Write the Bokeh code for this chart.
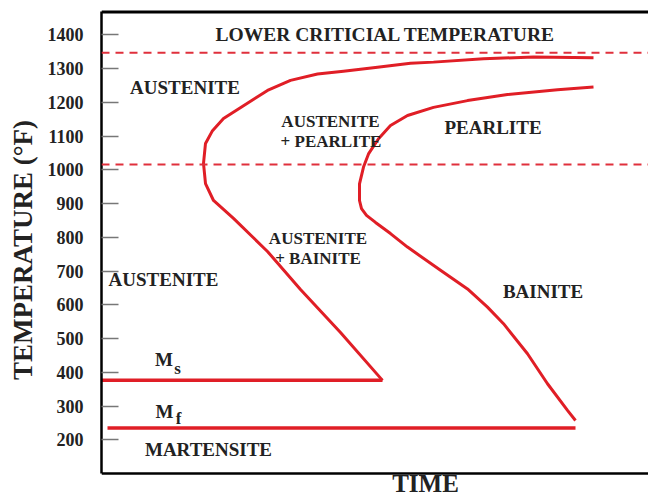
from bokeh.plotting import figure
from bokeh.models import Span, FixedTicker, Range1d, ColumnDataSource
from bokeh.core.properties import value
from bokeh.embed import file_html
from bokeh.resources import INLINE

# ---- data (time in arbitrary units, temperature in °F) ----
start_time = [492, 432, 382, 332, 309, 276, 242, 216, 189, 166, 142, 122, 111, 104, 102,
              104, 112, 132, 166, 199, 239, 281]
start_temp = [1332, 1334, 1329, 1319, 1316, 1304, 1292, 1284, 1265, 1235, 1190, 1152, 1116,
              1078, 1019, 959, 909, 856, 758, 645, 518, 376]
finish_time = [492, 456, 406, 366, 332, 306, 289, 277, 267, 262, 258, 258, 260, 265, 274,
               289, 306, 339, 366, 386, 402, 426, 446, 466, 474]
finish_temp = [1245, 1237, 1223, 1205, 1185, 1161, 1131, 1092, 1047, 1008, 958, 909, 885,
               865, 844, 811, 771, 702, 647, 593, 544, 455, 366, 287, 257]
ms_time = [0, 281]
ms_temp = [376, 376]
mf_time = [6, 474]
mf_temp = [235, 235]
dashed_temps = [1347, 1016]
y_ticks = [200, 300, 400, 500, 600, 700, 800, 900, 1000, 1100, 1200, 1300, 1400]
box_temps = [100, 1467.6]          # bottom and top border of the chart box

big_text = ["LOWER CRITICIAL TEMPERATURE", "AUSTENITE", "AUSTENITE", "PEARLITE",
            "BAINITE", "MARTENSITE", "M", "M"]
big_time = [284, 83.5, 62, 391.5, 441.5, 107, 62.5, 63]
big_temp = [1402, 1244, 675, 1125, 639, 171, 438, 284]
small_text = ["AUSTENITE", "+ PEARLITE", "AUSTENITE", "+ BAINITE"]
small_time = [229, 229.5, 216.5, 216.5]
small_temp = [1143, 1084, 796, 737]
sub_text = ["s", "f"]
sub_time = [76, 77]
sub_temp = [411, 262]
x_title = ["TIME"]
x_title_time = [324]
x_title_temp = [71]

FONT = "Liberation Serif"
RED = "#e01e26"
TEXT = "#222222"

p = figure(width=648, height=499, output_backend="svg", toolbar_location=None,
           x_range=Range1d(0, 547), y_range=Range1d(23, 1501.6),
           min_border_left=101, min_border_right=0, min_border_top=0, min_border_bottom=0)
p.outline_line_color = None
p.xgrid.visible = False
p.ygrid.visible = False
p.xaxis.visible = False

ya = p.yaxis[0]
ya.ticker = FixedTicker(ticks=y_ticks)
ya.bounds = (box_temps[0], box_temps[1])
ya.major_tick_in = 17
ya.major_tick_out = 0
ya.minor_tick_line_color = None
ya.major_tick_line_color = "#777777"
ya.major_tick_line_width = 1.5
ya.major_label_standoff = 18
ya.major_label_text_font = FONT
ya.major_label_text_font_style = "bold"
ya.major_label_text_font_size = "18px"
ya.major_label_text_color = TEXT
ya.axis_line_color = "black"
ya.axis_line_width = 2.5
ya.axis_label = "TEMPERATURE (°F)"
ya.axis_label_text_font = FONT
ya.axis_label_text_font_style = "bold"
ya.axis_label_text_font_size = "27px"
ya.axis_label_text_color = TEXT
ya.axis_label_standoff = 7

p.add_layout(Span(location=box_temps[0], dimension="width", line_color="black", line_width=2.5))
p.add_layout(Span(location=box_temps[1], dimension="width", line_color="black", line_width=3))

for t in dashed_temps:
    p.add_layout(Span(location=t, dimension="width", line_color="#e0303c",
                      line_width=2, line_dash="8 6"))

p.line(start_time, start_temp, line_color=RED, line_width=3, line_join="round")
p.line(finish_time, finish_temp, line_color=RED, line_width=3, line_join="round")
p.line(ms_time, ms_temp, line_color=RED, line_width=3.5)
p.line(mf_time, mf_temp, line_color=RED, line_width=3.5)

def add_text(xs, ys, txt, size):
    src = ColumnDataSource(dict(x=xs, y=ys, t=txt))
    p.text(x="x", y="y", text="t", source=src, text_font=value(FONT), text_font_style="bold",
           text_font_size=size, text_color=TEXT, text_align="center", text_baseline="middle")

add_text(big_time[:1], big_temp[:1], big_text[:1], "19.5px")
add_text(big_time[1:], big_temp[1:], big_text[1:], "19px")
add_text(small_time, small_temp, small_text, "17px")
add_text(sub_time, sub_temp, sub_text, "17px")
add_text(x_title_time, x_title_temp, x_title, "25px")

open("out.html", "w").write(file_html(p, INLINE))
